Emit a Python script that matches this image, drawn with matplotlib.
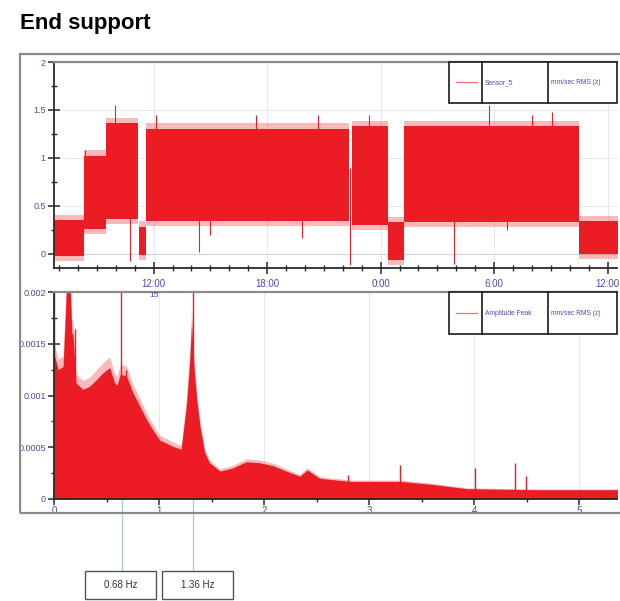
import matplotlib.pyplot as plt
from matplotlib.patches import Rectangle
from matplotlib.ticker import MultipleLocator, FixedLocator
import matplotlib.transforms as mtransforms

# ---- Sensor_5 RMS history (hours relative to 12:00 on the 15th) ----
band_start = [-5.27, -3.70, -2.50, -0.79, -0.39, 10.50, 12.38, 13.26, 22.50]
band_end = [-3.70, -2.50, -0.83, -0.39, 10.32, 12.38, 13.26, 22.50, 24.55]
band_low = [-0.02, 0.26, 0.36, -0.01, 0.34, 0.30, -0.06, 0.33, 0.00]
band_high = [0.35, 1.02, 1.36, 0.28, 1.30, 1.33, 0.33, 1.33, 0.34]

spike_hours = [-3.65, -2.06, -1.27, 0.14, 2.39, 2.96, 5.42, 7.87, 8.68, 10.38, 11.41, 15.90, 17.75, 18.70, 20.02, 21.08]
spike_low = [0.30, 0.40, -0.07, 0.40, 0.02, 0.20, 0.40, 0.17, 0.40, -0.11, 0.40, -0.10, 0.40, 0.25, 0.40, 0.40]
spike_high = [1.08, 1.55, 1.30, 1.45, 1.20, 1.20, 1.45, 1.20, 1.45, 0.90, 1.45, 1.20, 1.55, 1.20, 1.45, 1.48]

time_ticks = [0, 6, 12, 18, 24]
time_labels = ["12:00", "18:00", "0:00", "6:00", "12:00"]

# ---- Amplitude peak spectrum ----
freq = [0.0, 0.006, 0.04, 0.086, 0.105, 0.117, 0.156, 0.17, 0.18, 0.21, 0.276, 0.34, 0.40, 0.467,
        0.53, 0.578, 0.60, 0.63, 0.65, 0.69, 0.75, 0.816, 0.88, 0.94, 1.006, 1.07, 1.13, 1.21,
        1.26, 1.29, 1.31, 1.33, 1.36, 1.39, 1.435, 1.48, 1.58, 1.70, 1.83, 1.96, 2.09, 2.21,
        2.34, 2.41, 2.53, 2.82, 3.30, 3.61, 3.93, 4.56, 5.40]
amp = [0.002, 0.00138, 0.00125, 0.00128, 0.0017, 0.002, 0.002, 0.0016, 0.0016, 0.00112, 0.00106,
       0.00109, 0.00115, 0.00122, 0.00127, 0.00112, 0.0011, 0.0012, 0.0012, 0.00119, 0.00103,
       0.0009, 0.00077, 0.00067, 0.00057, 0.00054, 0.00051, 0.00048, 0.0009, 0.0013, 0.0017,
       0.0013, 0.00095, 0.0007, 0.00045, 0.00035, 0.00027, 0.0003, 0.00036, 0.00035, 0.00032,
       0.00027, 0.00022, 0.00028, 0.0002, 0.00017, 0.00017, 0.00014, 0.0001, 0.00009, 0.00009]

peak_freq = [0.0, 0.20, 0.635, 0.69, 1.324, 2.80, 3.29, 4.01, 4.39, 4.49]
peak_amp = [0.002, 0.00164, 0.002, 0.00125, 0.002, 0.00023, 0.00033, 0.0003, 0.00035, 0.00022]

marker_freq = [0.645, 1.325]
marker_text = ["0.68 Hz", "1.36 Hz"]

RED = "#ec1c24"
BLUE = "#4a4ab8"
W, H = 620, 601


def box(l, t, r, b):
    # pixel box -> figure fraction [left, bottom, width, height]
    return [l / W, (H - b) / H, (r - l) / W, (b - t) / H]


plt.rcParams['font.family'] = ['Liberation Sans', 'DejaVu Sans']
fig = plt.figure(figsize=(6.2, 6.01), dpi=100)

fig.text(20 / W, 1 - 23 / H, "End support", fontsize=16, fontweight="bold", va="center", ha="left")

# outer grey frame
fig.patches.append(Rectangle((20 / W, (H - 513) / H), 610 / W, 459 / H, transform=fig.transFigure,
                             fill=False, ec="#8a8a8a", lw=1.6, zorder=3))

# ---------------- top chart ----------------
ax1 = fig.add_axes(box(54, 62, 617, 268))
ax1.set_zorder(1)
for s, e, lo, hi in zip(band_start, band_end, band_low, band_high):
    ax1.fill_between([s, e], [lo - 0.05, lo - 0.05], [hi + 0.06, hi + 0.06], color=RED, alpha=0.3, lw=0)
    ax1.fill_between([s, e], [lo, lo], [hi, hi], color=RED, lw=0)
ax1.vlines(spike_hours, spike_low, spike_high, color=RED, lw=0.8)
ax1.axhline(0, color="#9a9a9a", lw=0.8, zorder=0)

ax1.set_xlim(-5.27, 24.5)
ax1.set_ylim(-0.146, 2.0)
ax1.xaxis.set_major_locator(FixedLocator(time_ticks))
ax1.set_xticklabels(time_labels)
ax1.xaxis.set_minor_locator(MultipleLocator(1))
ax1.set_yticks([0, 0.5, 1, 1.5, 2])
ax1.set_yticklabels(["0", "0.5", "1", "1.5", "2"])
ax1.yaxis.set_minor_locator(MultipleLocator(0.25))
ax1.grid(color="#dfe4f2", lw=0.6, zorder=0)
ax1.set_axisbelow(True)
ax1.text(0, -0.115, "15", transform=mtransforms.blended_transform_factory(ax1.transData, ax1.transAxes),
         ha="center", va="top", fontsize=6, color=BLUE, clip_on=False)

# ---------------- bottom chart ----------------
ax2 = fig.add_axes(box(54, 292, 617, 499))
ax2.fill_between(freq, 0, [a * 1.08 for a in amp], color=RED, alpha=0.3, lw=0)
ax2.fill_between(freq, 0, amp, color=RED, lw=0)
ax2.vlines(peak_freq, 0, peak_amp, color=RED, lw=1.0)
ax2.set_xlim(0, 5.36)
ax2.set_ylim(0, 0.002)
ax2.xaxis.set_major_locator(MultipleLocator(1))
ax2.xaxis.set_minor_locator(MultipleLocator(0.5))
ax2.set_yticks([0, 0.0005, 0.001, 0.0015, 0.002])
ax2.set_yticklabels(["0", "0.0005", "0.001", "0.0015", "0.002"])
ax2.yaxis.set_minor_locator(MultipleLocator(0.00025))
ax2.grid(axis="x", color="#dfe4f2", lw=0.6, zorder=0)
ax2.set_axisbelow(True)

for ax in (ax1, ax2):
    ax.set_facecolor("white")
    ax.spines["right"].set_visible(False)
    ax.spines["top"].set_color("#8a8a8a")
    ax.spines["top"].set_linewidth(1.6)
    ax.spines["left"].set_color("#2a2a2a")
    ax.spines["bottom"].set_color("#2a2a2a")
    ax.spines["left"].set_linewidth(1.3)
    ax.spines["bottom"].set_linewidth(1.3)
    ax.tick_params(which="major", direction="inout", length=8, width=1.1, color="#2a2a2a",
                   labelsize=6.5, labelcolor=BLUE, pad=2)
    ax.tick_params(which="minor", direction="inout", length=5, width=1.0, color="#2a2a2a")
ax1.tick_params(axis="x", which="major", pad=4, labelsize=7)
ax2.tick_params(axis="x", which="major", pad=1, labelsize=7)

# legend boxes
legend_names = ["Sensor_5", "Amplitude Peak"]
for ax, name, bottom in ((ax1, legend_names[0], 0.801), (ax2, legend_names[1], 0.797)):
    l, c1, c2, r = 0.7016, 0.760, 0.8774, 1.0
    ax.add_patch(Rectangle((l, bottom), r - l, 1 - bottom, transform=ax.transAxes,
                           fc="white", ec="#1a1a1a", lw=1.2, zorder=5, clip_on=False))
    for cx in (c1, c2):
        ax.plot([cx, cx], [bottom, 1], transform=ax.transAxes, color="#1a1a1a", lw=1.2, zorder=6, clip_on=False)
    ym = (bottom + 1) / 2
    ax.plot([l + 0.012, c1 - 0.008], [ym, ym], transform=ax.transAxes, color="#f07070", lw=0.9, zorder=6)
    ax.text(c1 + 0.005, ym, name, transform=ax.transAxes, fontsize=4.8, color=BLUE, va="center", zorder=6)
    ax.text(c2 + 0.005, ym, "mm/sec RMS (z)", transform=ax.transAxes, fontsize=4.8, color=BLUE,
            va="center", zorder=6)

# frequency markers below the spectrum
trans = mtransforms.blended_transform_factory(ax2.transData, ax2.transAxes)
for f in marker_freq:
    ax2.plot([f, f], [0, -72 / 207], transform=trans, color="#a9c6e6", lw=0.9, clip_on=False)
for left_px, txt in zip([85, 162], marker_text):
    fig.patches.append(Rectangle((left_px / W, (H - 599) / H), 71 / W, 28 / H, transform=fig.transFigure,
                                 fc="white", ec="#555555", lw=1.0))
    fig.text((left_px + 35.5) / W, (H - 585) / H, txt, ha="center", va="center", fontsize=7, color="#333333")

# cover everything left of the grey frame (labels are cut there in the original)
fig.patches.append(Rectangle((0, (H - 520) / H), 19 / W, 240 / H, transform=fig.transFigure,
                             fc="white", ec="none", zorder=4))

fig.savefig("out.png", dpi=100)
